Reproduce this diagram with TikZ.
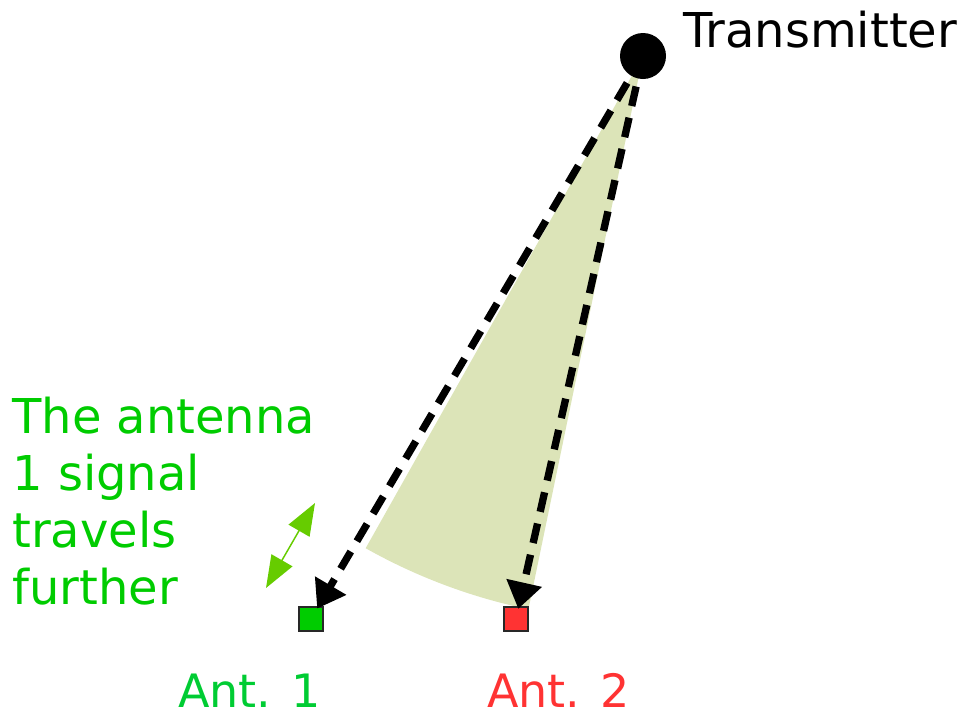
\documentclass[tikz,border=0pt]{standalone}
\usepackage{fontspec}
\setmainfont{DejaVu Sans}
\usetikzlibrary{arrows.meta}
\definecolor{wedge}{RGB}{220,228,184}
\definecolor{txtgreen}{RGB}{0,204,0}
\definecolor{antgreen}{RGB}{0,204,51}
\definecolor{sqgreen}{RGB}{0,204,0}
\definecolor{antred}{RGB}{255,51,51}
\definecolor{arrgreen}{RGB}{102,204,0}
\definecolor{edge}{RGB}{40,40,40}
\tikzset{
  bigtext/.style={font=\fontsize{36pt}{42.75pt}\selectfont, inner sep=0pt},
  anttext/.style={font=\fontsize{34.5pt}{42.75pt}\selectfont, inner sep=0pt, anchor=base west},
  antbox/.style={draw=edge, line width=1.1pt, minimum size=18pt, inner sep=0pt},
  signal/.style={line width=5.5pt, dash pattern=on 15pt off 9pt,
    -{Triangle[length=20pt,width=26pt]}, shorten <=6pt, shorten >=-2pt},
  further/.style={arrgreen, line width=1.1pt,
    {Triangle[length=24pt,width=18pt]}-{Triangle[length=24pt,width=18pt]}}
}
\begin{document}
\begin{tikzpicture}[x=0.75pt,y=-0.75pt]
\useasboundingbox (0,0) rectangle (967,715);
\coordinate (apex) at (643,56);
% wedge
\fill[wedge] (apex) -- ++(119.4:565) arc[start angle=119.4, end angle=101.7, radius=565] -- cycle;
% nodes
\node[circle, fill=black, minimum size=34.5pt, inner sep=0pt] (tx) at (643,56) {};
\node[bigtext, anchor=base west] (txl) at (683,47) {Transmitter};
\node[antbox, fill=sqgreen] (a1) at (311,619) {};
\node[antbox, fill=antred] (a2) at (516,619) {};
\node[anttext, text=antgreen] (l1) at (178,707) {Ant. 1};
\node[anttext, text=antred] (l2) at (487,707) {Ant. 2};
\node[bigtext, anchor=base west, align=left, text=txtgreen] (note) at (12,604) {The antenna\\1 signal\\travels\\further};
% arrows
\draw[signal] (tx) -- (a1);
\draw[signal] (tx) -- (a2);
\coordinate (f1) at (266,588);
\coordinate (f2) at (315,503);
\draw[further] (f1) -- (f2);
\end{tikzpicture}
\end{document}
